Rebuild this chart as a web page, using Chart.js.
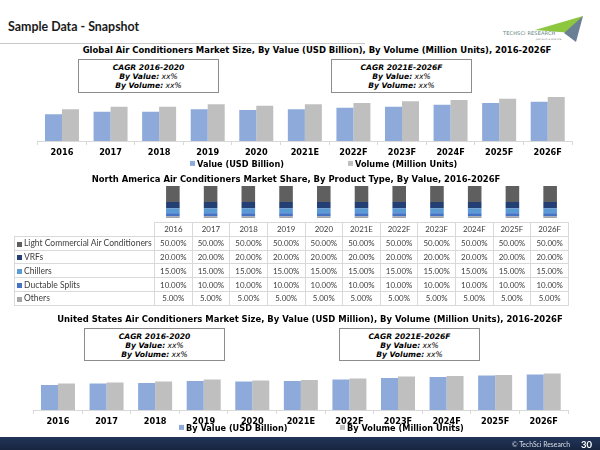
<!DOCTYPE html>
<html><head><meta charset="utf-8">
<script src="https://cdn.jsdelivr.net/npm/chart.js@4.4.0/dist/chart.umd.min.js"></script>
<style>
html,body{margin:0;padding:0;background:#fff;}
body{width:600px;height:450px;position:relative;overflow:hidden;font-family:"DejaVu Sans",sans-serif;}
canvas{position:absolute;left:0;}
.title{position:absolute;white-space:nowrap;font-weight:bold;font-size:8.45px;color:#000;transform:translate(-50%,-50%);line-height:1;}
.box{position:absolute;border:1px solid #8c8c8c;background:#fff;box-sizing:border-box;text-align:center;font-style:italic;font-size:7.6px;line-height:9px;padding-top:3px;color:#000;}
.box b{font-weight:bold;}
.leg{position:absolute;white-space:nowrap;font-weight:bold;font-size:8.2px;line-height:1;transform:translateY(-50%);color:#000;}
.sq{display:inline-block;width:5px;height:5px;margin-right:2px;vertical-align:middle;position:relative;top:-1px;}
#tbl{position:absolute;left:14px;top:222px;border-collapse:collapse;table-layout:fixed;width:555px;font-family:Lato,sans-serif;font-size:7.9px;color:#404040;}
#tbl td{border:1px solid #d9d9d9;padding:0;height:12.8px;text-align:center;white-space:nowrap;overflow:hidden;}
#tbl td.lab{text-align:left;padding-left:2px;font-size:8.5px;}
#tbl td.empty{border:none;}
#tbl .sq{width:5px;height:5px;margin-right:2px;top:0;}
</style></head>
<body>
<div style="position:absolute;left:8px;top:26px;transform:translateY(-50%);font-family:Lato,sans-serif;font-weight:bold;font-size:12.4px;color:#1a1a1a;white-space:nowrap;">Sample Data - Snapshot</div>
<div style="position:absolute;left:0;top:43px;width:365px;height:1px;background:#c8c8c8;"></div>
<svg style="position:absolute;left:490px;top:8px;" width="100" height="36" viewBox="0 0 100 36">
  <polygon points="45,22 93,8 82,25" fill="#8dc63f"/>
  <polygon points="74,25 93,8 86,34" fill="#6b7f95"/>
  <text x="13" y="27" font-family="DejaVu Sans" font-size="5" fill="#5f8080" letter-spacing="0.15">TECHSCI RESEARCH</text>
  <text x="46" y="32" font-family="DejaVu Sans" font-size="2.6" fill="#777" font-style="italic">join us in a new era</text>
</svg>

<div class="title" style="left:317px;top:50px;">Global Air Conditioners Market Size, By Value (USD Billion), By Volume (Million Units), 2016-2026F</div>
<div class="box" style="left:78px;top:59px;width:141px;height:34px;"><b>CAGR 2016-2020</b><br><b>By Value:</b> xx%<br><b>By Volume:</b> xx%</div>
<div class="box" style="left:331px;top:59px;width:141px;height:34px;"><b>CAGR 2021E-2026F</b><br><b>By Value:</b> xx%<br><b>By Volume:</b> xx%</div>
<canvas id="c1" width="600" height="76" style="top:85px;"></canvas>
<div class="leg" style="left:190px;top:164px;"><span class="sq" style="background:#8eaadb"></span>Value (USD Billion)</div>
<div class="leg" style="left:348px;top:164px;"><span class="sq" style="background:#bfbfbf"></span>Volume (Million Units)</div>

<div class="title" style="left:296px;top:179px;">North America Air Conditioners Market Share, By Product Type, By Value, 2016-2026F</div>
<canvas id="c2" width="600" height="32" style="top:186px;"></canvas>
<table id="tbl"></table>

<div class="title" style="left:310px;top:319px;">United States Air Conditioners Market Size, By Value (USD Million), By Volume (Million Units), 2016-2026F</div>
<div class="box" style="left:84px;top:328px;width:141px;height:33px;"><b>CAGR 2016-2020</b><br><b>By Value:</b> xx%<br><b>By Volume:</b> xx%</div>
<div class="box" style="left:339px;top:328px;width:141px;height:33px;"><b>CAGR 2021E-2026F</b><br><b>By Value:</b> xx%<br><b>By Volume:</b> xx%</div>
<canvas id="c3" width="600" height="70" style="top:360px;"></canvas>
<div class="leg" style="left:179px;top:428px;"><span class="sq" style="background:#8eaadb"></span>By Value (USD Billion)</div>
<div class="leg" style="left:340px;top:428px;"><span class="sq" style="background:#bfbfbf"></span>By Volume (Million Units)</div>

<div style="position:absolute;left:0;top:437px;width:600px;height:13px;background:linear-gradient(#22355a,#17253f);"></div>
<div style="position:absolute;left:512px;top:444px;transform:translateY(-50%);font-family:Lato,sans-serif;font-size:6.8px;color:#d8dde6;white-space:nowrap;">© TechSci Research</div>
<div style="position:absolute;left:581px;top:444px;transform:translateY(-50%);font-family:Lato,sans-serif;font-weight:bold;font-size:9.5px;color:#fff;">30</div>

<script>
// ---- data ----
const years = ['2016','2017','2018','2019','2020','2021E','2022F','2023F','2024F','2025F','2026F'];
const globalValue  = [80, 88, 88, 95, 93, 95, 100, 103, 109, 114, 118];
const globalVolume = [95, 103, 103, 110, 106, 110, 114, 119, 123, 127, 132];
const segNames = ['Light Commercial Air Conditioners','VRFs','Chillers','Ductable Splits','Others'];
const lightCommercial = [50,50,50,50,50,50,50,50,50,50,50];
const vrfs            = [20,20,20,20,20,20,20,20,20,20,20];
const chillers        = [15,15,15,15,15,15,15,15,15,15,15];
const ductableSplits  = [10,10,10,10,10,10,10,10,10,10,10];
const others          = [5,5,5,5,5,5,5,5,5,5,5];
const usValue  = [50, 53, 54, 58, 57, 58, 61, 64, 66, 69, 71];
const usVolume = [53, 55, 57, 61, 59, 60, 63, 67, 68, 70, 73];

const segColors = ['#5f5f5f','#243f73','#5b9bd5','#4472c4','#a5a5a5'];
const segData = [lightCommercial, vrfs, chillers, ductableSplits, others];

function sizeChart(id, labels, v1, v2, padL, padR, ymax, padTick){
  return new Chart(document.getElementById(id), {
    type:'bar',
    data:{labels:labels, datasets:[
      {label:'Value', data:v1, backgroundColor:'#8eaadb'},
      {label:'Volume', data:v2, backgroundColor:'#bfbfbf'}]},
    options:{responsive:false, animation:false,
      layout:{padding:{left:padL,right:padR,top:0,bottom:0}},
      plugins:{legend:{display:false},tooltip:{enabled:false}},
      datasets:{bar:{categoryPercentage:0.7,barPercentage:1}},
      scales:{
        x:{grid:{display:true,drawOnChartArea:false,drawTicks:true,tickLength:4,color:'#d9d9d9',offset:true},
           border:{display:true,color:'#d9d9d9'},
           ticks:{font:{family:'DejaVu Sans',weight:'bold',size:8.2},color:'#000',padding:padTick,maxRotation:0,autoSkip:false},
           afterFit:a=>{a.height=20;}},
        y:{display:false,min:0,max:ymax}
      }}
  });
}
sizeChart('c1', years, globalValue, globalVolume, 37.7, 28, 168, 3);
sizeChart('c3', years, usValue, usVolume, 33.7, 32, 100, 3);

// stacked share chart (bottom series first)
const stackSets = [];
for (let i = segNames.length-1; i >= 0; i--) {
  stackSets.push({label:segNames[i], data:segData[i], backgroundColor:segColors[i]});
}
new Chart(document.getElementById('c2'), {
  type:'bar',
  data:{labels:years, datasets:stackSets},
  options:{responsive:false, animation:false,
    layout:{padding:{left:154,right:31,top:0,bottom:0}},
    plugins:{legend:{display:false},tooltip:{enabled:false}},
    datasets:{bar:{categoryPercentage:0.36,barPercentage:1}},
    scales:{x:{display:false,stacked:true},y:{display:false,stacked:true,min:0,max:100}}}
});

// data table
const tbl = document.getElementById('tbl');
let html = '<colgroup><col style="width:140px">' + years.map(()=>'<col>').join('') + '</colgroup>';
html += '<tr><td class="empty"></td>' + years.map(y=>'<td>'+y+'</td>').join('') + '</tr>';
segNames.forEach((n,i)=>{
  html += '<tr><td class="lab"><span class="sq" style="background:'+segColors[i]+'"></span>'+n+'</td>' +
    segData[i].map(v=>'<td>'+v.toFixed(2)+'%</td>').join('') + '</tr>';
});
tbl.innerHTML = html;
</script>
</body></html>
